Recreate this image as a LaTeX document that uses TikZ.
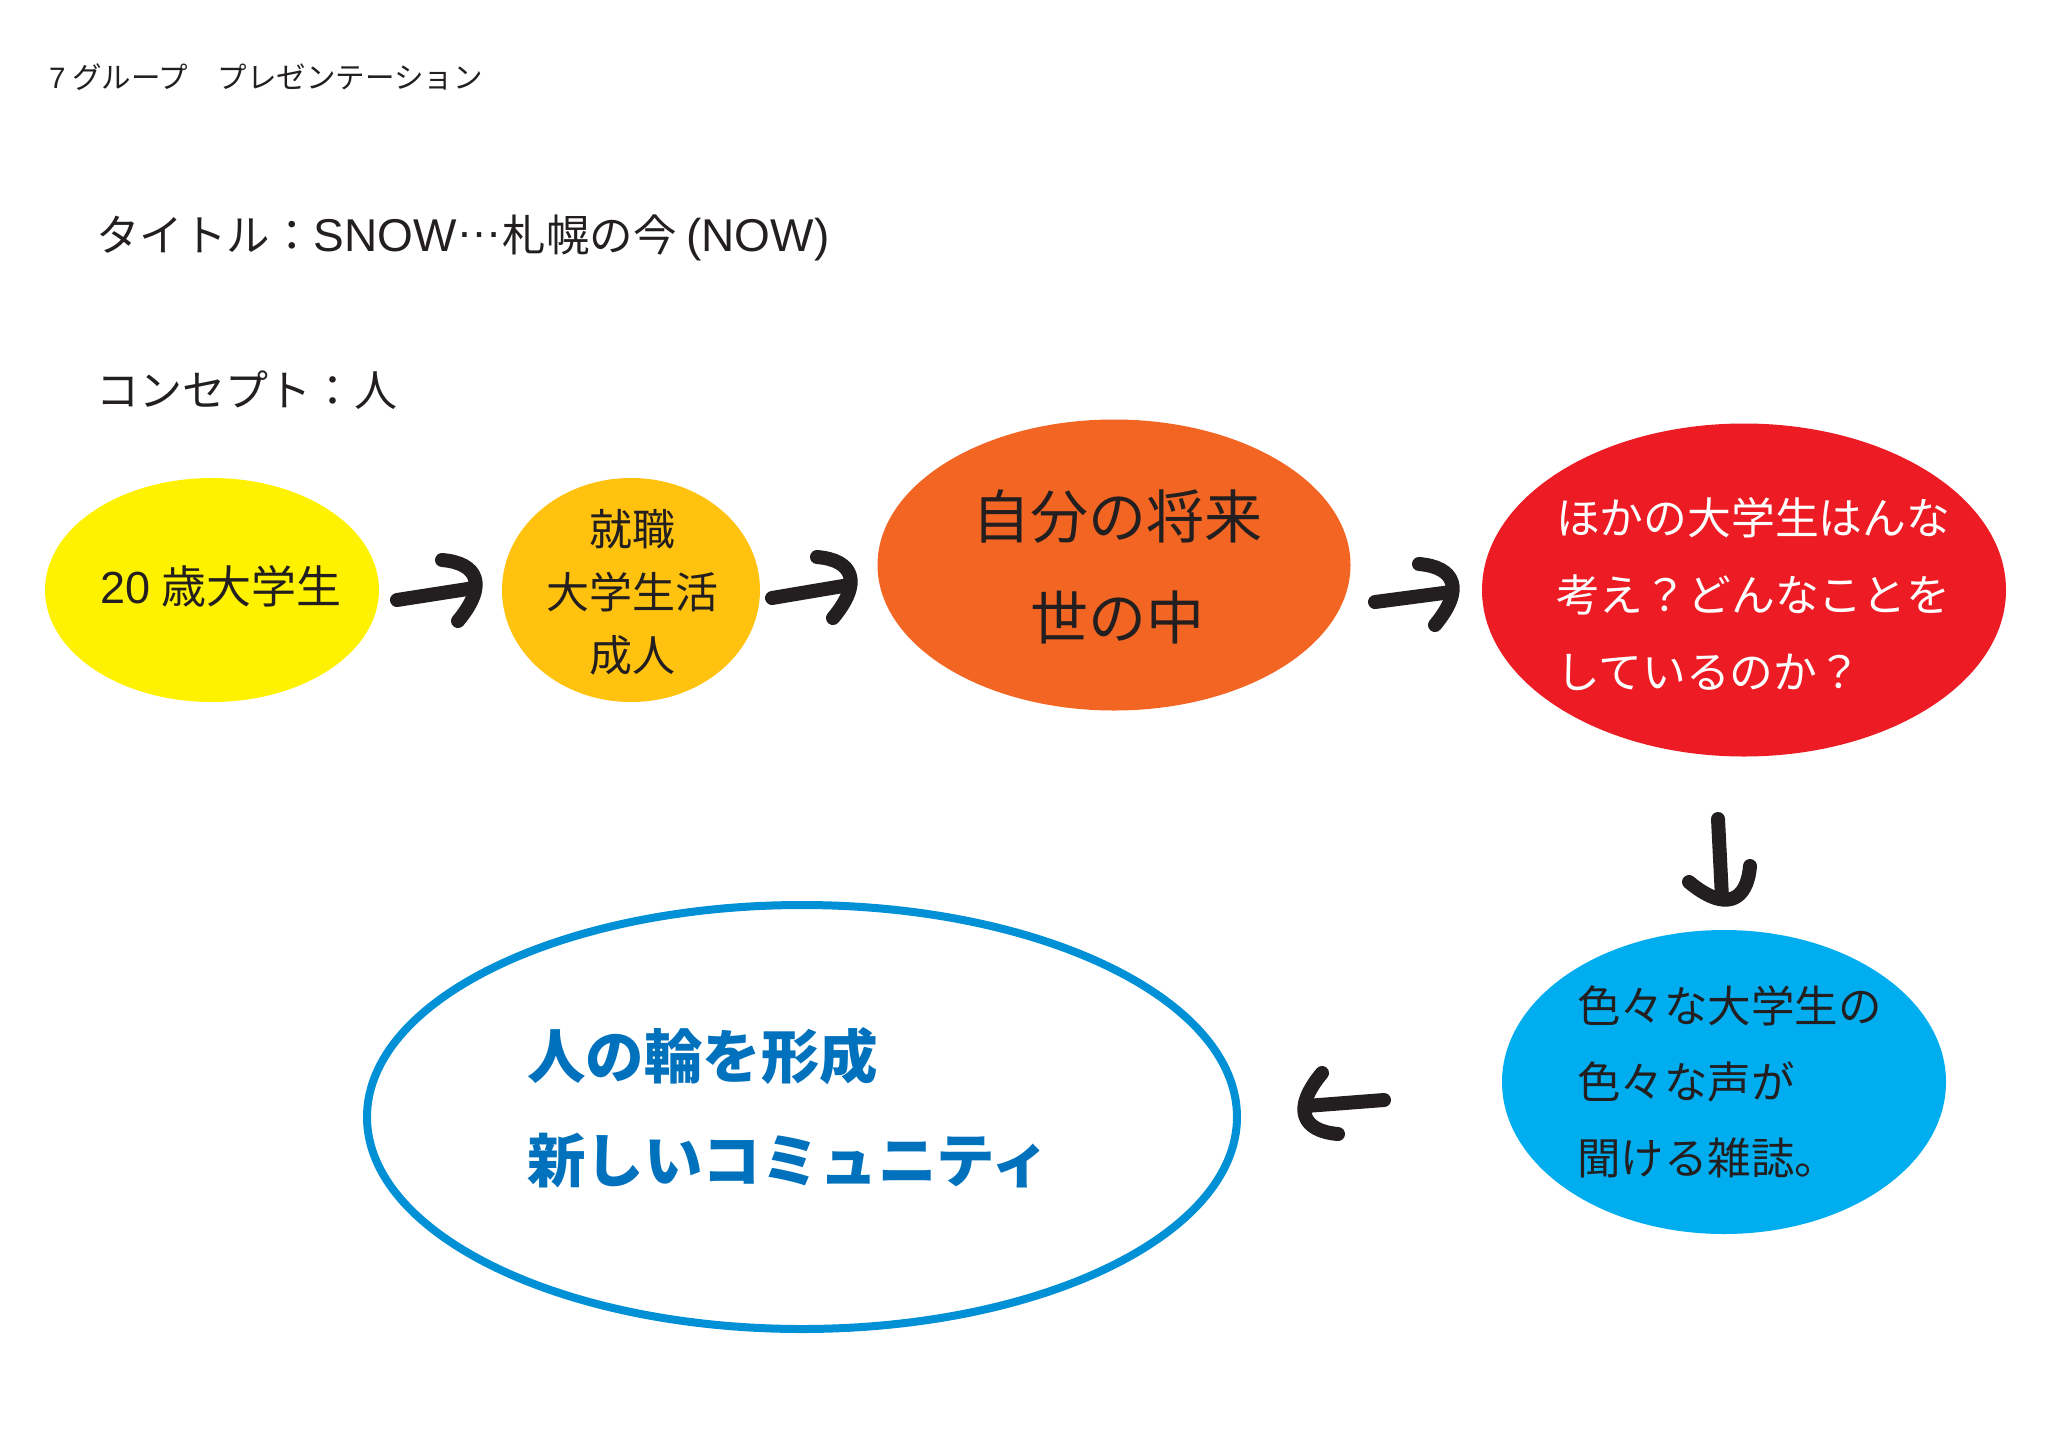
\documentclass[tikz,border=0pt]{standalone}
\usepackage{fontspec}
\usetikzlibrary{shapes.geometric}
\newfontfamily\jp{Noto Sans CJK JP}
\newfontfamily\lat{Liberation Sans}
\newcommand\jpfs[2]{\jp\fontsize{#1}{#2}\selectfont}
\newcommand\latbig{\lat\fontsize{46}{50}\selectfont}
\definecolor{ink}{HTML}{231F20}
\definecolor{cyel}{HTML}{FFF200}
\definecolor{cgold}{HTML}{FFC20E}
\definecolor{corange}{HTML}{F26522}
\definecolor{cred}{HTML}{ED1C24}
\definecolor{ccyan}{HTML}{00AEEF}
\definecolor{cring}{HTML}{0090D6}
\definecolor{cbtext}{HTML}{0071BC}
\begin{document}
\begin{tikzpicture}[x=1pt,y=-1pt,
  blob/.style={ellipse, inner sep=0pt, outer sep=0pt},
  lbl/.style={inner sep=0pt, outer sep=0pt, text=ink},
  brush/.style={draw=ink, line width=14pt, line cap=round, line join=round}]
\fill[white] (0,0) rectangle (2048,1448);
\useasboundingbox (0,0) rectangle (2048,1448);

% header texts
\node[lbl, anchor=west, font=\jpfs{29.5}{34}] (hdr) at (49,77) {{\lat 7} グループ　プレゼンテーション};
\node[lbl, anchor=west, font=\jpfs{43.5}{50}] (title) at (96,238) {タイトル：{\latbig SNOW\raisebox{0.3em}{…}}札幌の今 {\latbig (NOW)}};
\node[lbl, anchor=west, font=\jpfs{43}{50}] (concept) at (96,390) {コンセプト：人};

% ellipses
\node[blob, fill=cyel, minimum width=334pt, minimum height=224pt] (e1) at (212,590) {};
\node[blob, fill=cgold, minimum width=258pt, minimum height=224pt] (e2) at (631,590) {};
\node[blob, fill=corange, minimum width=473pt, minimum height=291pt] (e3) at (1114,565) {};
\node[blob, fill=cred, minimum width=524pt, minimum height=333pt] (e4) at (1744,590) {};
\node[blob, fill=ccyan, minimum width=444pt, minimum height=304pt] (e5) at (1724,1082) {};
\node[blob, draw=cring, line width=8pt, fill=white, minimum width=870pt, minimum height=424pt] (e6) at (802,1117) {};

% texts in ellipses
\node[lbl, font=\jpfs{45}{50}] (x1) at (221,586) {{\lat 20} 歳大学生};
\node[lbl, align=center, font=\jpfs{43}{63}] (x2) at (632,592) {就職\\大学生活\\成人};
\node[lbl, align=center, font=\jpfs{58}{101}] (x3) at (1117,567) {自分の将来\\世の中};
\node[lbl, align=left, anchor=west, text=white, font=\jpfs{43.8}{77}] (x4) at (1556,594) {ほかの大学生はんな\\考え？どんなことを\\しているのか？};
\node[lbl, align=left, anchor=west, font=\jpfs{43.5}{76}] (x5) at (1577,1082) {色々な大学生の\\色々な声が\\聞ける雑誌。};
\node[lbl, align=left, anchor=west, text=cbtext, font=\jpfs{58.5}{104}\bfseries] (x6) at (527,1108) {人の輪を形成\\新しいコミュニティ};

% hand-drawn arrows
\coordinate (a1s) at (397,600); \coordinate (a1t) at (478,588);
\coordinate (a2s) at (772,598); \coordinate (a2t) at (853,585);
\coordinate (a3s) at (1375,602); \coordinate (a3t) at (1455,592);
\coordinate (a4s) at (1718,819); \coordinate (a4t) at (1722,902);
\coordinate (a5s) at (1384,1100); \coordinate (a5t) at (1302,1106);

\foreach \a in {a1,a2,a3}{
  \draw[brush] (\a s) -- ([shift={(-4,0)}]\a t);
  \draw[brush] ([shift={(-36,-28)}]\a t) .. controls ([shift={(0,-25)}]\a t) and ([shift={(10,-3)}]\a t) .. ([shift={(-20,33)}]\a t);
}
\draw[brush] (a4s) -- ([shift={(0,-4)}]a4t);
\draw[brush] ([shift={(28,-36)}]a4t) .. controls ([shift={(25,0)}]a4t) and ([shift={(3,10)}]a4t) .. ([shift={(-33,-20)}]a4t);
\draw[brush] (a5s) -- ([shift={(4,0)}]a5t);
\draw[brush] ([shift={(36,28)}]a5t) .. controls ([shift={(0,25)}]a5t) and ([shift={(-10,3)}]a5t) .. ([shift={(20,-33)}]a5t);
\end{tikzpicture}
\end{document}
